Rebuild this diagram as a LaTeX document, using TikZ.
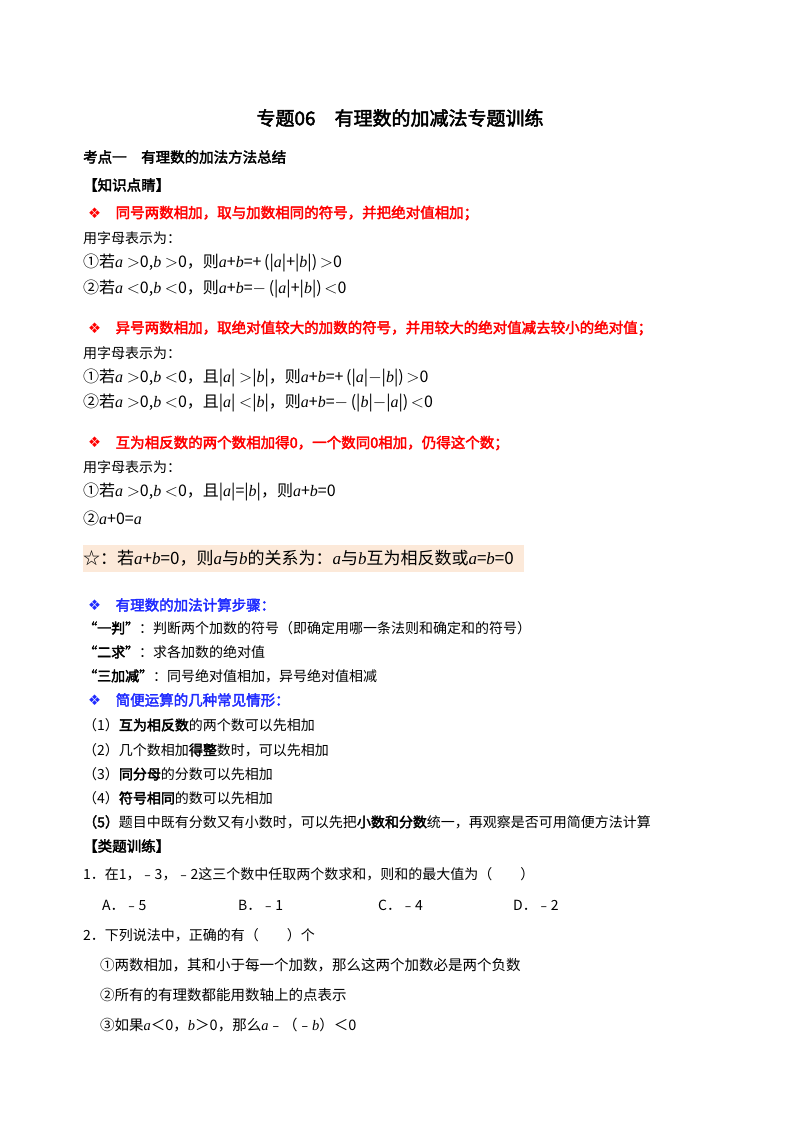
\documentclass[tikz,border=0pt]{standalone}
\usepackage{fontspec}
\setmainfont{Liberation Serif}
\newfontfamily\cjk[AutoFakeBold=2.5]{Noto Sans CJK SC}
\newfontfamily\dvs{DejaVu Sans}
\newfontfamily\mth{Liberation Serif}
\newcommand{\mi}[1]{{\mth\itshape #1}}
\newcommand{\dia}{{\dvs ❖}}
\definecolor{rd}{HTML}{FF0000}
\definecolor{bl}{HTML}{1F2BFF}
\definecolor{peach}{HTML}{FCE9D9}
\begin{document}
\begin{tikzpicture}[x=1pt,y=-1pt,
  t/.style={anchor=west,inner sep=0pt,font=\cjk\fontsize{14}{16}\selectfont},
  f/.style={anchor=west,inner sep=0pt,font=\cjk\fontsize{16}{18}\selectfont},
  b/.style={t,font=\cjk\bfseries\fontsize{14.5}{16}\selectfont},
  r/.style={b,text=rd},
  u/.style={b,text=bl}]
\useasboundingbox (0,0) rectangle (800,1132);
\fill[white] (0,0) rectangle (800,1132);
\node[inner sep=0pt,font=\cjk\bfseries\fontsize{19}{21}\selectfont] (title) at (400,118) {专题06\quad 有理数的加减法专题训练};
\node[b] (k1) at (83,157) {考点一\quad 有理数的加法方法总结};
\node[b] (zs) at (83,185) {【知识点睛】};
\node[r] (r1) at (88,213) {\dia\quad 同号两数相加，取与加数相同的符号，并把绝对值相加；};
\node[t] (y1) at (83,238) {用字母表示为：};
\node[f] (a1) at (83,263) {①若\mi{a} ${>}$0,\mi{b} ${>}$0，则\mi{a}+\mi{b}=+\,(|\mi{a}|+|\mi{b}|)\,${>}$0};
\node[f] (a2) at (83,289) {②若\mi{a} ${<}$0,\mi{b} ${<}$0，则\mi{a}+\mi{b}=$-$\,(|\mi{a}|+|\mi{b}|)\,${<}$0};
\node[r] (r2) at (88,328) {\dia\quad 异号两数相加，取绝对值较大的加数的符号，并用较大的绝对值减去较小的绝对值；};
\node[t] (y2) at (83,353) {用字母表示为：};
\node[f] (b1) at (83,378) {①若\mi{a} ${>}$0,\mi{b} ${<}$0，且|\mi{a}| ${>}$|\mi{b}|，则\mi{a}+\mi{b}=+\,(|\mi{a}|$-$|\mi{b}|)\,${>}$0};
\node[f] (b2) at (83,403) {②若\mi{a} ${>}$0,\mi{b} ${<}$0，且|\mi{a}| ${<}$|\mi{b}|，则\mi{a}+\mi{b}=$-$\,(|\mi{b}|$-$|\mi{a}|)\,${<}$0};
\node[r] (r3) at (88,443) {\dia\quad 互为相反数的两个数相加得0，一个数同0相加，仍得这个数；};
\node[t] (y3) at (83,467) {用字母表示为：};
\node[f] (c1) at (83,492) {①若\mi{a} ${>}$0,\mi{b} ${<}$0，且|\mi{a}|=|\mi{b}|，则\mi{a}+\mi{b}=0};
\node[f] (c2) at (83,518) {②\mi{a}+0=\mi{a}};
\fill[peach] (83,545) rectangle (524,572);
\node[f,font=\cjk\fontsize{17}{19}\selectfont] (star) at (83,558) {☆：若\mi{a}+\mi{b}=0，则\mi{a}与\mi{b}的关系为：\mi{a}与\mi{b}互为相反数或\mi{a}=\mi{b}=0};
\node[u] (s1) at (88,605) {\dia\quad 有理数的加法计算步骤：};
\node[t] (p1) at (83,628) {{\bfseries “一判”}：判断两个加数的符号（即确定用哪一条法则和确定和的符号）};
\node[t] (p2) at (83,652) {{\bfseries “二求”}：求各加数的绝对值};
\node[t] (p3) at (83,676) {{\bfseries “三加减”}：同号绝对值相加，异号绝对值相减};
\node[u] (s2) at (88,700) {\dia\quad 简便运算的几种常见情形：};
\node[t] (q1) at (83,725) {（1）{\bfseries 互为相反数}的两个数可以先相加};
\node[t] (q2) at (83,750) {（2）几个数相加{\bfseries 得整}数时，可以先相加};
\node[t] (q3) at (83,774) {（3）{\bfseries 同分母}的分数可以先相加};
\node[t] (q4) at (83,798) {（4）{\bfseries 符号相同}的数可以先相加};
\node[t] (q5) at (83,822) {{\bfseries （5）}题目中既有分数又有小数时，可以先把{\bfseries 小数和分数}统一，再观察是否可用简便方法计算};
\node[b] (lt) at (83,846) {【类题训练】};
\node[t] (e1) at (83,874) {1．在1，﹣3，﹣2这三个数中任取两个数求和，则和的最大值为（\qquad ）};
\node[t] (oA) at (102,905) {A．﹣5};
\node[t] (oB) at (238,905) {B．﹣1};
\node[t] (oC) at (378,905) {C．﹣4};
\node[t] (oD) at (513,905) {D．﹣2};
\node[t] (e2) at (83,935) {2．下列说法中，正确的有（\qquad ）个};
\node[t,font=\cjk\fontsize{14.5}{16}\selectfont] (d1) at (100,965) {①两数相加，其和小于每一个加数，那么这两个加数必是两个负数};
\node[t,font=\cjk\fontsize{14.5}{16}\selectfont] (d2) at (100,995) {②所有的有理数都能用数轴上的点表示};
\node[t,font=\cjk\fontsize{14.5}{16}\selectfont] (d3) at (100,1025) {③如果\mi{a}＜0，\mi{b}＞0，那么\mi{a}﹣（﹣\mi{b}）＜0};
\end{tikzpicture}
\end{document}
